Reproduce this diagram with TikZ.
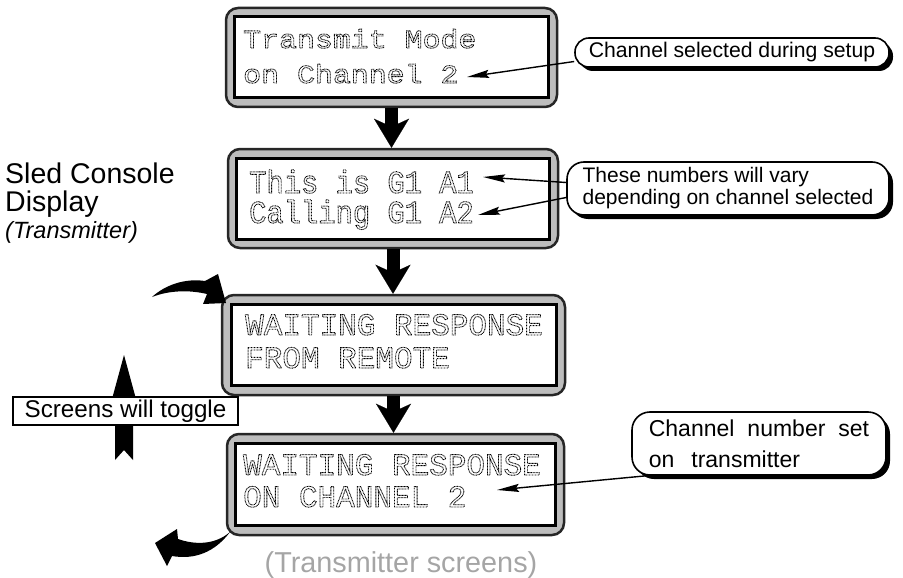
\documentclass[tikz,border=0pt]{standalone}
\usepackage{fontspec}
\setmainfont{Liberation Sans}
\newfontfamily\lcdA[FakeStretch=1.15]{Liberation Mono}
\newfontfamily\lcdB[FakeStretch=0.9]{Liberation Mono}
\newfontfamily\lcdC[FakeStretch=1.0]{Liberation Mono}
\usetikzlibrary{arrows.meta,shadows,calc}
\definecolor{bezelgray}{HTML}{BDBDBD}
\definecolor{capgray}{HTML}{A5A5A5}
\newcommand\lcdtxt[1]{\special{pdf:literal 1 Tr 0.85 w [0.9 0.6] 0 d}#1\special{pdf:literal 0 Tr [] 0 d 0.4 w}}
\begin{document}
\begin{tikzpicture}[x=1pt,y=-1pt,
  bezel/.style={draw=black!85, line width=2.5pt, fill=bezelgray, rounded corners=12pt, inner sep=0pt},
  glass/.style={draw=black, line width=3pt, fill=white, inner sep=0pt},
  lcdone/.style={inner sep=0pt, anchor=base west, font=\lcdA\fontsize{26pt}{28pt}\selectfont},
  lcdtwo/.style={inner sep=0pt, anchor=base west, font=\lcdB\fontsize{32pt}{34pt}\selectfont},
  lcdthree/.style={inner sep=0pt, anchor=base west, font=\lcdC\fontsize{31pt}{33pt}\selectfont},
  bigarrow/.style={line width=13pt, -{Stealth[length=29pt, width=35pt, inset=8pt, line width=0.1pt]}},
  pointer/.style={line width=1.4pt, -{Stealth[length=22pt, width=8pt, inset=3pt]}},
  callout/.style={draw=black, line width=1.6pt, fill=white, inner sep=0pt,
    drop shadow={shadow xshift=4pt, shadow yshift=-4pt, fill=black, opacity=1}},
  plain/.style={inner sep=0pt, anchor=base west}
]
\useasboundingbox (0,0) rectangle (903,578);

% screens
\node[bezel, minimum width=331pt, minimum height=99pt] (s1) at (391.5,57.5) {};
\node[glass, minimum width=314pt, minimum height=81pt] (g1) at (s1.center) {};
\node[lcdone] (t1a) at (243,48) {\lcdtxt{Transmit Mode}};
\node[lcdone] (t1b) at (243,83) {\lcdtxt{on Channel 2}};

\node[bezel, minimum width=330pt, minimum height=99pt] (s2) at (393,198.5) {};
\node[glass, minimum width=313pt, minimum height=81pt] (g2) at (s2.center) {};
\node[lcdtwo] (t2a) at (249,193) {\lcdtxt{This is G1 A1}};
\node[lcdtwo] (t2b) at (249,223) {\lcdtxt{Calling G1 A2}};

\node[bezel, minimum width=343pt, minimum height=100pt] (s3) at (393.5,345) {};
\node[glass, minimum width=325pt, minimum height=81pt] (g3) at (s3.center) {};
\node[lcdthree] (t3a) at (245,335) {\lcdtxt{WAITING RESPONSE}};
\node[lcdthree] (t3b) at (245,368) {\lcdtxt{FROM REMOTE}};

\node[bezel, minimum width=337pt, minimum height=101pt] (s4) at (395.5,484.5) {};
\node[glass, minimum width=320pt, minimum height=82pt] (g4) at (s4.center) {};
\node[lcdthree] (t4a) at (243,475) {\lcdtxt{WAITING RESPONSE}};
\node[lcdthree] (t4b) at (243,507) {\lcdtxt{ON CHANNEL 2}};

% flow arrows
\draw[bigarrow] (s1.south) -- (s1.south |- s2.north);
\draw[bigarrow] (s2.south) -- (s2.south |- s3.north);
\draw[bigarrow] (s3.south) -- (s3.south |- s4.north);

% callouts
\node[callout, rounded corners=14pt, minimum width=314pt, minimum height=29pt,
  font=\fontsize{21.2pt}{22pt}\selectfont] (c1) at (732,52.5) {Channel selected during setup};
\node[callout, rounded corners=17pt, minimum width=322pt, minimum height=53pt, align=left,
  font=\fontsize{21pt}{22pt}\selectfont] (c2) at (728,188.5) {These numbers will vary\\depending on channel selected};
\node[callout, rounded corners=18pt, minimum width=254pt, minimum height=63pt, align=left,
  font=\fontsize{23pt}{31pt}\selectfont] (c3) at (759,443.5) {Channel\hspace{13pt}number\hspace{13pt}set\\on\hspace{17pt}transmitter};

\coordinate (p1) at (467,77);
\coordinate (p2) at (483,177);
\coordinate (p3) at (478,215);
\coordinate (p4) at (497,490);
\draw[pointer] ($(c1.west)+(0,9)$) -- (p1);
\draw[pointer] ($(c2.west)+(0,-6)$) -- (p2);
\draw[pointer] ($(c2.west)+(0,9)$) -- (p3);
\draw[pointer] ($(c3.south west)+(15,0)$) -- (p4);

% left labels
\node[plain, font=\fontsize{28.5pt}{30pt}\selectfont] (sled) at (5,183) {Sled Console};
\node[plain, font=\fontsize{28.5pt}{30pt}\selectfont] (disp) at (5,211) {Display};
\node[plain, font=\fontsize{23.5pt}{24pt}\selectfont\itshape] (trx) at (5,238) {(Transmitter)};

% toggle arrows
\fill (152,297) .. controls (165,285) and (185,278) .. (205,281) -- (218,274) -- (226,303)
  -- (203,304) -- (207,294) .. controls (190,290) and (170,290) .. (152,297) -- cycle;
\fill (230,532) .. controls (215,545) and (195,545) .. (178,539) -- (177,529) -- (155,543)
  -- (167,566) -- (172,556) .. controls (195,560) and (215,552) .. (230,532) -- cycle;
\fill (124,355) -- (136,399) -- (133,399) -- (133,460) -- (124,450) -- (115,460)
  -- (115,399) -- (112,399) -- cycle;
\node[draw, line width=1.5pt, fill=white, minimum width=225pt, minimum height=28pt, inner sep=0pt,
  font=\fontsize{24.2pt}{25pt}\selectfont] (tog) at (125.5,411) {Screens will toggle};

% caption
\node[inner sep=0pt, anchor=base, text=capgray, font=\fontsize{28.8pt}{30pt}\selectfont] (cap) at (401,572) {(Transmitter screens)};
\end{tikzpicture}
\end{document}
